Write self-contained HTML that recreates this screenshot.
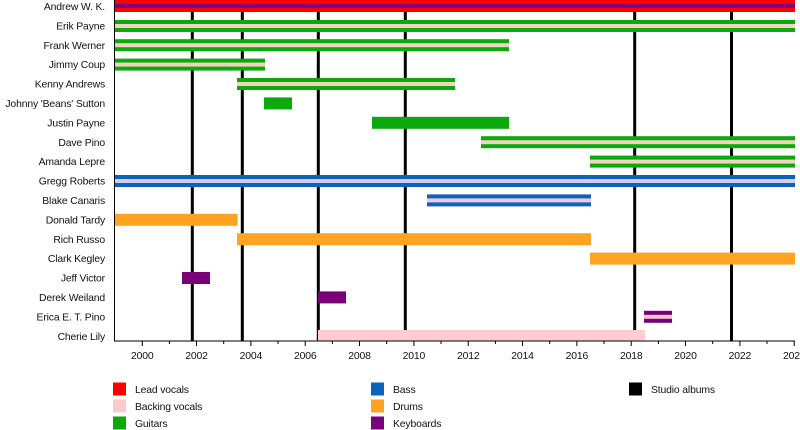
<!DOCTYPE html>
<html><head><meta charset="utf-8"><style>
html,body{margin:0;padding:0;background:#fff;width:800px;height:430px;overflow:hidden}
svg{display:block}
text{font-family:"Liberation Sans",Arial,sans-serif;font-size:10.4px;letter-spacing:-0.15px;fill:#111}
</style></head><body>
<svg width="800" height="430" viewBox="0 0 800 430" xmlns="http://www.w3.org/2000/svg">
<rect width="800" height="430" fill="#fff"/>
<!-- album lines -->
<g fill="#000">
<rect x="190.8" y="12" width="3" height="329"/>
<rect x="240.8" y="12" width="3" height="329"/>
<rect x="316.8" y="12" width="3" height="329"/>
<rect x="403.8" y="12" width="3" height="329"/>
<rect x="633.2" y="12" width="3" height="329"/>
<rect x="730" y="12" width="3" height="329"/>
</g>
<!-- bars -->
<rect x="115" y="0" width="680" height="12" fill="#ff0000"/>
<rect x="115" y="4" width="680" height="4" fill="#800080"/>
<rect x="115" y="20" width="680" height="12" fill="#0aaa0a"/>
<rect x="115" y="24" width="680" height="4" fill="#f4d2c2"/>
<rect x="115" y="39.2" width="394" height="12" fill="#0aaa0a"/>
<rect x="115" y="43.2" width="394" height="4" fill="#f4d2c2"/>
<rect x="115" y="58.6" width="150" height="12" fill="#0aaa0a"/>
<rect x="115" y="62.6" width="150" height="4" fill="#f4d2c2"/>
<rect x="237" y="78" width="218" height="12" fill="#0aaa0a"/>
<rect x="237" y="82" width="218" height="4" fill="#f4d2c2"/>
<rect x="264" y="97.4" width="28" height="12" fill="#0aaa0a"/>
<rect x="372" y="116.8" width="137" height="12" fill="#0aaa0a"/>
<rect x="481" y="136.2" width="314" height="12" fill="#0aaa0a"/>
<rect x="481" y="140.2" width="314" height="4" fill="#f4d2c2"/>
<rect x="590" y="155.6" width="205" height="12" fill="#0aaa0a"/>
<rect x="590" y="159.6" width="205" height="4" fill="#f4d2c2"/>
<rect x="115" y="175" width="680" height="12" fill="#0a64bc"/>
<rect x="115" y="179" width="680" height="4" fill="#dccbe6"/>
<rect x="427" y="194.4" width="164" height="12" fill="#0a64bc"/>
<rect x="427" y="198.4" width="164" height="4" fill="#f0c8dc"/>
<rect x="115" y="213.8" width="122.5" height="12" fill="#ffa321"/>
<rect x="237" y="233.2" width="354" height="12" fill="#ffa321"/>
<rect x="590" y="252.6" width="205" height="12" fill="#ffa321"/>
<rect x="182" y="272" width="28" height="12" fill="#7a007a"/>
<rect x="318" y="291.4" width="28" height="12" fill="#7a007a"/>
<rect x="644" y="310.8" width="28" height="12" fill="#7a007a"/>
<rect x="644" y="314.8" width="28" height="4" fill="#f6c4d0"/>
<rect x="318" y="330" width="327" height="11" fill="#ffcccf"/>
<!-- axes -->
<rect x="114" y="0" width="1" height="341.5" fill="#000"/>
<rect x="114" y="340.5" width="681" height="1" fill="#000"/>
<g fill="#000">
<rect x="141.8" y="341" width="1" height="5"/>
<rect x="168.9" y="341" width="1" height="3"/>
<rect x="196" y="341" width="1" height="5"/>
<rect x="223.2" y="341" width="1" height="3"/>
<rect x="250.4" y="341" width="1" height="5"/>
<rect x="277.5" y="341" width="1" height="3"/>
<rect x="304.7" y="341" width="1" height="5"/>
<rect x="331.9" y="341" width="1" height="3"/>
<rect x="359" y="341" width="1" height="5"/>
<rect x="386.2" y="341" width="1" height="3"/>
<rect x="413.4" y="341" width="1" height="5"/>
<rect x="440.5" y="341" width="1" height="3"/>
<rect x="467.7" y="341" width="1" height="5"/>
<rect x="494.9" y="341" width="1" height="3"/>
<rect x="522" y="341" width="1" height="5"/>
<rect x="549.2" y="341" width="1" height="3"/>
<rect x="576.4" y="341" width="1" height="5"/>
<rect x="603.5" y="341" width="1" height="3"/>
<rect x="630.7" y="341" width="1" height="5"/>
<rect x="657.9" y="341" width="1" height="3"/>
<rect x="685" y="341" width="1" height="5"/>
<rect x="712.2" y="341" width="1" height="3"/>
<rect x="739.4" y="341" width="1" height="5"/>
<rect x="766.5" y="341" width="1" height="3"/>
<rect x="793.7" y="341" width="1" height="5"/>
</g>
<g text-anchor="middle">
<text x="142.3" y="359">2000</text>
<text x="196.5" y="359">2002</text>
<text x="250.9" y="359">2004</text>
<text x="305.2" y="359">2006</text>
<text x="359.5" y="359">2008</text>
<text x="413.9" y="359">2010</text>
<text x="468.2" y="359">2012</text>
<text x="522.5" y="359">2014</text>
<text x="576.9" y="359">2016</text>
<text x="631.2" y="359">2018</text>
<text x="685.5" y="359">2020</text>
<text x="739.9" y="359">2022</text>
<text x="794.2" y="359">2024</text>
</g>
<g text-anchor="end">
<text x="105" y="10">Andrew W. K.</text>
<text x="105" y="29.4">Erik Payne</text>
<text x="105" y="48.8">Frank Werner</text>
<text x="105" y="68.2">Jimmy Coup</text>
<text x="105" y="87.6">Kenny Andrews</text>
<text x="105" y="107">Johnny 'Beans' Sutton</text>
<text x="105" y="126.4">Justin Payne</text>
<text x="105" y="145.8">Dave Pino</text>
<text x="105" y="165.2">Amanda Lepre</text>
<text x="105" y="184.6">Gregg Roberts</text>
<text x="105" y="204">Blake Canaris</text>
<text x="105" y="223.4">Donald Tardy</text>
<text x="105" y="242.8">Rich Russo</text>
<text x="105" y="262.2">Clark Kegley</text>
<text x="105" y="281.6">Jeff Victor</text>
<text x="105" y="301">Derek Weiland</text>
<text x="105" y="320.4">Erica E. T. Pino</text>
<text x="105" y="339.8">Cherie Lily</text>
</g>
<!-- legend -->
<rect x="113" y="382.5" width="13" height="13" fill="#ff0000"/>
<text x="135" y="393">Lead vocals</text>
<rect x="113" y="399.5" width="13" height="13" fill="#ffc8cc"/>
<text x="135" y="410">Backing vocals</text>
<rect x="113" y="416.5" width="13" height="13" fill="#0aaa0a"/>
<text x="135" y="427">Guitars</text>
<rect x="371" y="382.5" width="13" height="13" fill="#0a64bc"/>
<text x="393" y="393">Bass</text>
<rect x="371" y="399.5" width="13" height="13" fill="#ffa321"/>
<text x="393" y="410">Drums</text>
<rect x="371" y="416.5" width="13" height="13" fill="#7a007a"/>
<text x="393" y="427">Keyboards</text>
<rect x="629" y="382.5" width="13" height="13" fill="#000"/>
<text x="651" y="393">Studio albums</text>
</svg>
</body></html>
